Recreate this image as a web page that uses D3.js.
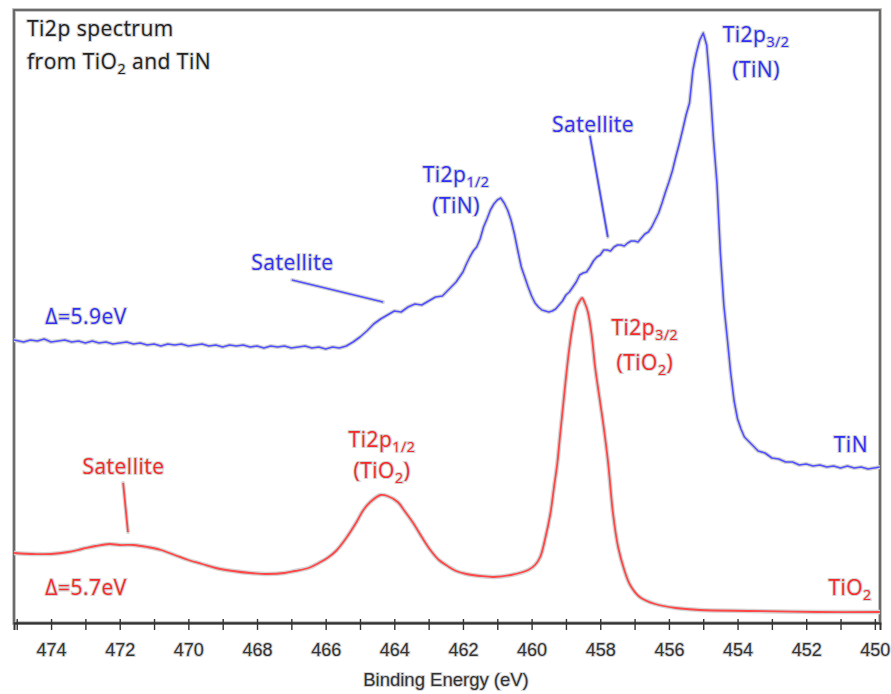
<!DOCTYPE html>
<html>
<head>
<meta charset="utf-8">
<script src="https://cdn.jsdelivr.net/npm/d3@7"></script>
<style>
  body { margin: 0; background: #fff; }
  svg { display: block; }
</style>
</head>
<body>
<svg id="chart" width="891" height="694"></svg>
<script>
// Binding energy (eV) and intensity (a.u.) of the TiN Ti2p scan
const energyTiN = [
  475.08, 474.8, 474.6, 474.4, 474.2, 474.0, 473.8, 473.6, 473.4, 473.2,
  473.0, 472.8, 472.6, 472.4, 472.2, 472.0, 471.8, 471.6, 471.4, 471.2,
  471.0, 470.8, 470.6, 470.4, 470.2, 470.0, 469.8, 469.6, 469.4, 469.2,
  469.0, 468.8, 468.6, 468.4, 468.2, 468.0, 467.8, 467.6, 467.4, 467.2,
  467.0, 466.8, 466.6, 466.4, 466.2, 466.0, 465.8, 465.6, 465.4,
  465.2, 465.0, 464.8, 464.6, 464.4, 464.2, 464.0, 463.8, 463.6, 463.4,
  463.2, 463.0, 462.8, 462.6, 462.4, 462.2, 462.0,
  461.9, 461.8, 461.7, 461.6, 461.5, 461.4, 461.3, 461.2, 461.1, 461.0,
  460.9, 460.8, 460.7, 460.6, 460.5, 460.4, 460.3, 460.2, 460.1, 460.0,
  459.9, 459.8, 459.7, 459.6, 459.5, 459.4, 459.3, 459.2, 459.1, 459.0,
  458.9, 458.8, 458.7, 458.6, 458.5, 458.4, 458.3, 458.2, 458.1, 458.0,
  457.9, 457.8, 457.7, 457.6, 457.5, 457.4, 457.3, 457.2, 457.1, 457.0,
  456.9, 456.8, 456.7, 456.6, 456.5, 456.4, 456.3, 456.2, 456.1, 456.0,
  455.9, 455.8, 455.7, 455.6, 455.5, 455.4, 455.3, 455.2, 455.1, 455.0,
  454.9, 454.8, 454.7, 454.6, 454.5, 454.4, 454.3, 454.2, 454.1, 454.0,
  453.9, 453.8, 453.6, 453.4, 453.2, 453.0, 452.8, 452.6, 452.4, 452.2,
  452.0, 451.8, 451.6, 451.4, 451.2, 451.0, 450.8, 450.6, 450.4, 450.2,
  449.85
];
const intensityTiN = [
  283, 281, 283, 282, 284, 281, 282, 283, 281, 282,
  280, 282, 280, 281, 279, 280, 281, 279, 280, 278,
  279, 277, 279, 278, 279, 277, 278, 279, 277, 278,
  276, 278, 277, 278, 276, 277, 275, 277, 276, 277,
  275, 276, 277, 275, 276, 274, 276, 275, 277,
  281, 286, 292, 299, 304, 308, 312, 311, 316, 319,
  318, 322, 326, 327, 334, 341, 351,
  359, 366, 372, 376, 384, 396, 404, 413, 419, 423,
  425, 420, 413, 403, 389, 372, 356, 346, 336, 327,
  320, 316, 313, 312, 311, 312, 314, 318, 322, 328,
  331, 336, 341, 348, 350, 351, 356, 362, 366, 368,
  373, 373, 372, 376, 378, 378, 377, 380, 382, 382,
  381, 385, 389, 391, 396, 403, 410, 420, 431, 441,
  452, 466, 479, 493, 508, 520, 553, 570, 583, 590,
  578, 537, 483, 440, 370, 318, 285, 250, 222, 204,
  194, 186, 179, 172, 170, 165, 164, 161, 161, 158,
  159, 157, 158, 156, 157, 155, 157, 155, 156, 154,
  156
];

// Binding energy (eV) and intensity (a.u.) of the TiO2 Ti2p scan
const energyTiO2 = [
  475.08, 474.5, 474.0, 473.5, 473.1, 472.7, 472.3, 472.0, 471.6, 471.2,
  470.8, 470.4, 470.0, 469.6, 469.2, 468.7, 468.2, 467.7, 467.2, 466.9,
  466.5, 466.2, 465.95, 465.7, 465.4, 465.1, 464.9, 464.7, 464.4, 464.2,
  463.9, 463.7, 463.45, 463.2, 462.95, 462.7, 462.45, 462.2, 461.9, 461.5,
  461.1, 460.6, 460.1, 459.9, 459.75, 459.6, 459.45, 459.35, 459.25, 459.17,
  459.08, 459.0, 458.9, 458.8, 458.7, 458.6, 458.53, 458.45, 458.36, 458.25,
  458.15, 458.0, 457.9, 457.77, 457.63, 457.48, 457.3, 457.13, 456.85, 456.4,
  455.8, 455.1, 453.6, 451.7, 449.85
];
const intensityTiO2 = [
  70, 69, 69, 71, 74, 77, 79, 78, 78, 76,
  73, 68, 63, 59, 55, 52, 50, 49, 50, 52,
  55, 60, 65, 72, 85, 101, 113, 121, 128, 127,
  121, 112, 100, 86, 73, 63, 57, 52, 49, 47,
  46, 48, 53, 58, 66, 85, 110, 135, 160, 188,
  218, 245, 275, 298, 315, 322, 325, 320, 311, 288,
  256, 220, 196, 160, 110, 76, 53, 38, 26, 19,
  15, 13, 12, 11, 11
];

// Axis ticks: a tick every eV, a label every 2 eV
const minorTicks = [475, 474, 473, 472, 471, 470, 469, 468, 467, 466, 465, 464, 463,
  462, 461, 460, 459, 458, 457, 456, 455, 454, 453, 452, 451, 450];
const tickLabels = [474, 472, 470, 468, 466, 464, 462, 460, 458, 456, 454, 452, 450];

const frame = { left: 14, right: 880, top: 10, bottom: 623 };

const svg = d3.select("#chart");

const x = d3.scaleLinear().domain([475.08, 449.85]).range([frame.left, frame.right]);
const y = d3.scaleLinear().domain([0, 613]).range([frame.bottom, frame.top]);

const BLUE_LINE = "#4f4fff", BLUE_TEXT = "#3030f4";
const RED_LINE = "#ff4646", RED_TEXT = "#f42a2a";
const HALO = "#d4d4d4";
const LABEL_FONT = "'Open Sans', 'Noto Sans', sans-serif";

svg.append("defs").append("clipPath").attr("id", "plot-clip")
  .append("rect")
  .attr("x", frame.left).attr("y", frame.top)
  .attr("width", frame.right - frame.left).attr("height", frame.bottom - frame.top);

// Plot frame
svg.append("rect")
  .attr("x", frame.left).attr("y", frame.top)
  .attr("width", frame.right - frame.left).attr("height", frame.bottom - frame.top)
  .attr("fill", "none").attr("stroke", "#c4c4c4").attr("stroke-width", 4);
svg.append("rect")
  .attr("x", frame.left).attr("y", frame.top)
  .attr("width", frame.right - frame.left).attr("height", frame.bottom - frame.top)
  .attr("fill", "none").attr("stroke", "#555").attr("stroke-width", 1.6);

// Bottom axis
const axis = d3.axisBottom(x)
  .tickValues(minorTicks)
  .tickSize(7)
  .tickFormat(d => tickLabels.includes(d) ? String(d) : "");
const axisG = svg.append("g")
  .attr("transform", `translate(0,${frame.bottom})`)
  .call(axis);
axisG.select(".domain").attr("stroke", "#333").attr("stroke-width", 2);
axisG.selectAll(".tick line").attr("y1", -4).attr("stroke", "#333").attr("stroke-width", 1.4);
axisG.selectAll(".tick text")
  .attr("y", 33).attr("dy", 0)
  .attr("font-family", "'Liberation Sans', Arial, sans-serif")
  .attr("font-size", 18)
  .attr("fill", "#333")
  .attr("stroke", HALO).attr("stroke-width", 2).attr("paint-order", "stroke");

svg.append("text")
  .attr("x", 446).attr("y", 686)
  .attr("text-anchor", "middle")
  .attr("font-family", "'Liberation Sans', Arial, sans-serif")
  .attr("font-size", 18.5)
  .attr("fill", "#333")
  .attr("stroke", HALO).attr("stroke-width", 2).attr("paint-order", "stroke")
  .text("Binding Energy (eV)");

// Spectra
const seriesTiN = d3.zip(energyTiN, intensityTiN);
const seriesTiO2 = d3.zip(energyTiO2, intensityTiO2);

const plot = svg.append("g").attr("clip-path", "url(#plot-clip)");

function drawSpectrum(data, color, curve, width) {
  const gen = d3.line().x(d => x(d[0])).y(d => y(d[1])).curve(curve);
  const d = gen(data);
  plot.append("path").attr("d", d).attr("fill", "none")
    .attr("stroke", HALO).attr("stroke-width", width + 2.6)
    .attr("stroke-linejoin", "round");
  plot.append("path").attr("d", d).attr("fill", "none")
    .attr("stroke", color).attr("stroke-width", width)
    .attr("stroke-linejoin", "round");
}
drawSpectrum(seriesTiN, BLUE_LINE, d3.curveLinear, 1.6);
drawSpectrum(seriesTiO2, RED_LINE, d3.curveCatmullRom.alpha(0.5), 1.8);

// Text helper: parts are [text, isSubscript]
function label(px, py, parts, color, anchor = "start", size = 21) {
  const t = svg.append("text")
    .attr("x", px).attr("y", py)
    .attr("text-anchor", anchor)
    .attr("font-family", LABEL_FONT)
    .attr("font-size", size)
    .attr("letter-spacing", 0.5)
    .attr("fill", color)
    .attr("stroke", HALO).attr("stroke-width", 2.2)
    .attr("paint-order", "stroke");
  let lowered = false;
  parts.forEach(([s, sub]) => {
    const ts = t.append("tspan").text(s);
    if (sub && !lowered) { ts.attr("dy", 5).attr("font-size", size * 0.68); lowered = true; }
    else if (sub) { ts.attr("font-size", size * 0.68); }
    else if (lowered) { ts.attr("dy", -5); lowered = false; }
  });
  return t;
}
function pointer(e1, i1, e2, i2, color) {
  svg.append("line")
    .attr("x1", x(e1)).attr("y1", y(i1)).attr("x2", x(e2)).attr("y2", y(i2))
    .attr("stroke", HALO).attr("stroke-width", 4).attr("stroke-linecap", "round");
  svg.append("line")
    .attr("x1", x(e1)).attr("y1", y(i1)).attr("x2", x(e2)).attr("y2", y(i2))
    .attr("stroke", color).attr("stroke-width", 1.8);
}

// Heading
label(27, 36, [["Ti2p spectrum"]], "#222");
label(27, 69, [["from TiO"], ["2", true], [" and TiN"]], "#222");

// TiN annotations
label(x(474.17), y(299), [["Δ=5.9eV"]], BLUE_TEXT);
label(x(466.97), y(353), [["Satellite"]], BLUE_TEXT, "middle");
pointer(466.98, 343, 464.33, 321, BLUE_LINE);
label(x(462.20), y(441), [["Ti2p"], ["1/2", true]], BLUE_TEXT, "middle");
label(x(462.20), y(410), [["(TiN)"]], BLUE_TEXT, "middle");
label(x(458.21), y(491), [["Satellite"]], BLUE_TEXT, "middle");
pointer(458.30, 487, 457.78, 386, BLUE_LINE);
label(x(453.46), y(581), [["Ti2p"], ["3/2", true]], BLUE_TEXT, "middle");
label(x(453.46), y(546), [["(TiN)"]], BLUE_TEXT, "middle");
label(x(450.20), y(171), [["TiN"]], BLUE_TEXT, "end");

// TiO2 annotations
label(x(471.89), y(149), [["Satellite"]], RED_TEXT, "middle");
pointer(471.90, 140, 471.76, 91, RED_LINE);
label(x(474.17), y(28), [["Δ=5.7eV"]], RED_TEXT);
label(x(464.36), y(176), [["Ti2p"], ["1/2", true]], RED_TEXT, "middle");
label(x(464.36), y(145), [["(TiO"], ["2", true], [")"]], RED_TEXT, "middle");
label(x(456.70), y(288), [["Ti2p"], ["3/2", true]], RED_TEXT, "middle");
label(x(456.70), y(253), [["(TiO"], ["2", true], [")"]], RED_TEXT, "middle");
label(x(450.09), y(28), [["TiO"], ["2", true]], RED_TEXT, "end");
</script>
</body>
</html>
